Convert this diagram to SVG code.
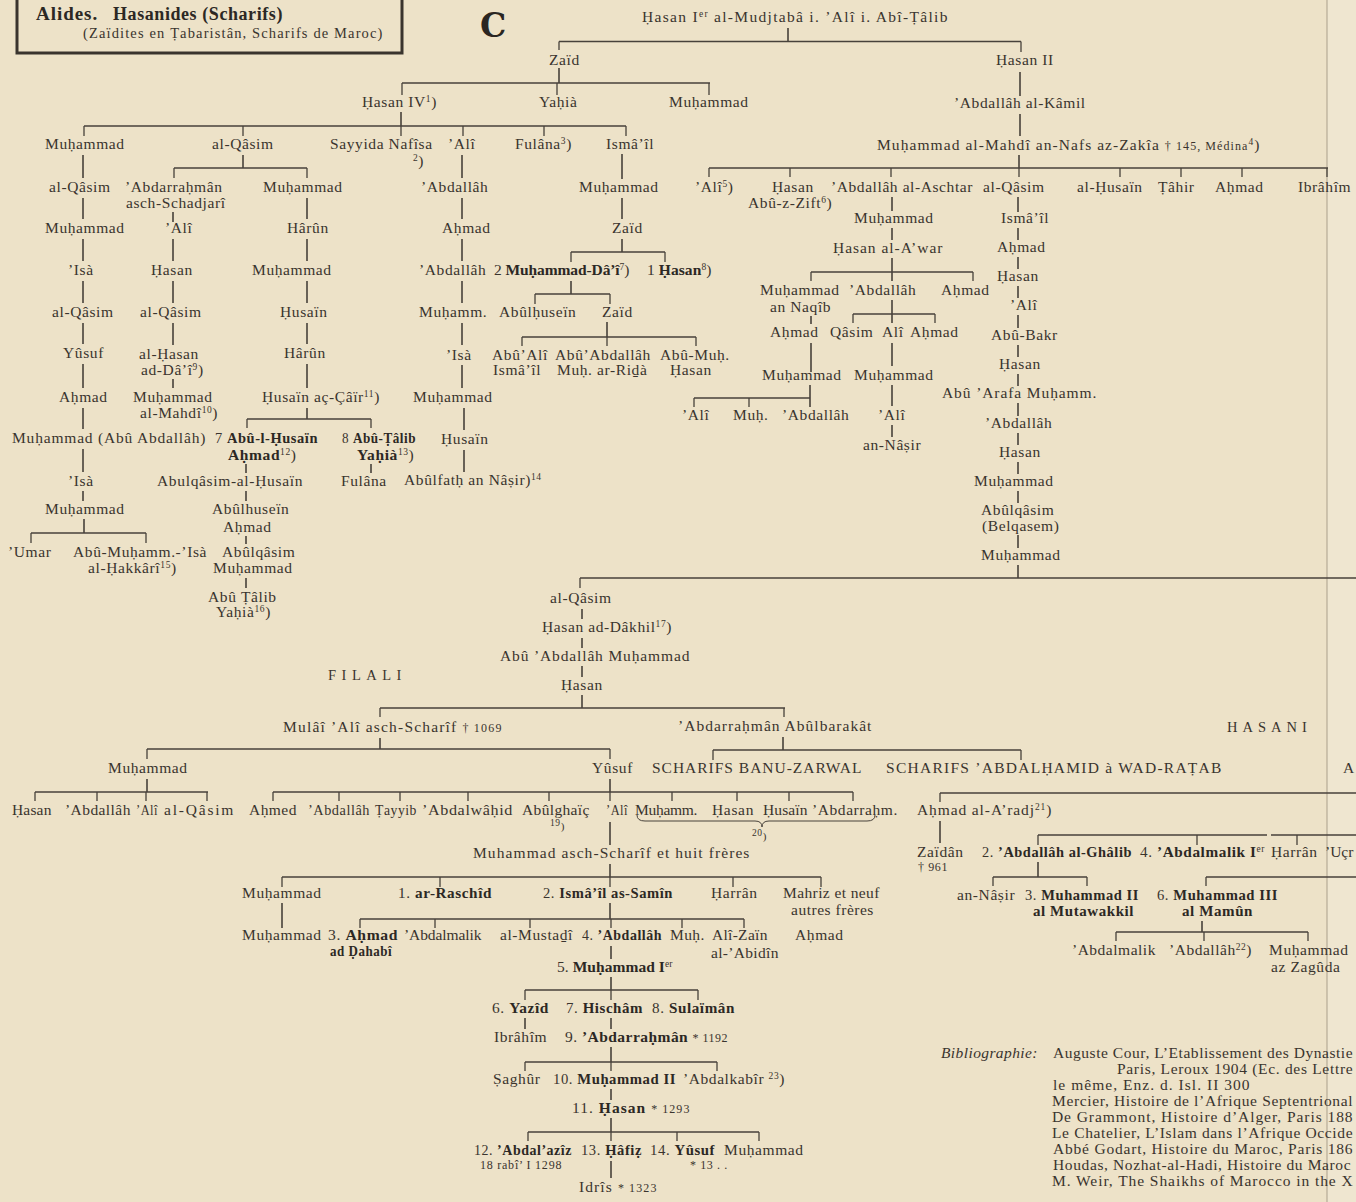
<svg xmlns="http://www.w3.org/2000/svg" width="1356" height="1202" viewBox="0 0 1356 1202">
<style>
.t{font-family:"Liberation Serif","Times New Roman",serif;font-size:15.5px;fill:#3a342e;letter-spacing:0.6px}
.b{font-weight:bold;fill:#2c2824}
.sp{font-size:9.5px}
.sm{font-size:12px}
.caps{font-size:14.5px;letter-spacing:5.5px}
.bib{font-family:"Liberation Serif","Times New Roman",serif;font-size:15.5px;fill:#3a342e;letter-spacing:0.4px}
.ln{stroke:#48423b;stroke-width:1.6;fill:none}
.tk{stroke:#48423b;stroke-width:1.3;fill:none}
</style>
<rect x="0" y="0" width="1356" height="1202" fill="#ede2c8"/>
<rect x="1327" y="0" width="29" height="1202" fill="#efe6d0"/>
<line x1="1327" y1="0" x2="1327" y2="1202" stroke="#aa9f8b" stroke-width="1"/>

<g id="title">
<rect x="17" y="-3" width="385" height="56" fill="none" stroke="#3a342e" stroke-width="3"/>
<text class="t b" x="36" y="20" style="font-size:19px;letter-spacing:0.8px" textLength="62">Alides.</text>
<text class="t b" x="113" y="20" style="font-size:18px;letter-spacing:0.6px" textLength="170">Hasanides (Scharifs)</text>
<text class="t" x="83" y="38" style="font-size:14.5px" textLength="300">(Zaïdites en Ṭabaristân, Scharifs de Maroc)</text>
</g>
<g id="letter-c"><text x="480" y="37" style="font-family:'DejaVu Serif',serif;font-weight:bold;font-size:33px;fill:#2a2622">C</text></g>

<g id="connectors">
<path class="ln" d="M788 28V41.5M559 41.5H1021M1020 72V96M1020 114V136M1019 155V168M709 168H1328M559 68V83M402 83H710M401 112V126M84 126H626
M83 155V178M83 198V219M83 239V261M83 281V303M83 323V344M83 364V388M83 408V429M83 449V472M83 491V501M84 519V533M31 533H146
M243 155V168M174 168H307M173 212V222M173 239V261M173 281V303M173 323V345M173 379V388
M307 198V219M307 239V261M307 281V303M307 323V344M307 364V388M307 408V419M247 419H371M246 464V473M246 491V501M246 536V544M246 578V588M371 464V473
M462 155V178M462 198V219M462 239V261M462 281V303M462 323V345M462 365V388M464 408V430M464 450V472
M622 154V179M622 198V219M622 239V252M571 252H665M571 281V294M535 294H610M607 322V337M522 337H696
M892 197V211M892 228V240M892 258V281M811 272H973M892 300V323M853 314H935M811 316V324M811 343V372M810 385V407M694 398H810M892 343V366M892 385V406M892 425V437
M1018 197V212M1018 228V240M1018 257V269M1018 286V298M1018 315V328M1018 345V357M1018 374V386M1018 403V416M1018 433V445M1018 462V474M1018 491V503M1018 535V548M1018 565V578M580 578H1356
M582 609V619M582 638V648M582 666V677M582 695V708M380 708H785M380 738V749M147 749H610M783 737V750M713 750H1021
M147 779V792M35 792H208M610 779V792M273 792H853M610 822V845M610 864V877M282 877H821M282 903V928M610 903V919M360 919H744
M611 946V959M611 977V990M525 990H698M525 1018V1029M611 1018V1029M611 1047V1062M525 1062H717M611 1089V1100M611 1118V1132M528 1132H759M611 1161V1178
M940 793H1356M940 821V843M1038 835H1267M1271 835H1356M1038 862V877M993 877H1087M1206 877H1356M1202 921V932M1116 932H1308"/>
<path class="tk" d="M559 41.5V50M1021 41.5V52M709 168V177M790 168V177M891 168V177M1019 168V177M1120 168V177M1181 168V177M1242 168V177M1327 168V177
M402 83V95M557 83V95M709 83V95M84 126V136M243 126V136M401 126V136M463 126V136M544 126V136M626 126V136
M31 533V543M146 533V543M174 168V178M307 168V178M247 419V428M371 419V428M571 252V262M665 252V262M535 294V304M610 294V304M522 337V346M607 337V346M696 337V346
M811 272V281M973 272V281M853 314V323M935 314V323M694 398V407M749 398V407M580 578V588
M380 708V717M784 708V717M147 749V759M610 749V759M713 750V760M1021 750V760
M35 792V801M97 792V801M146 792V801M207 792V801M273 792V801M339 792V801M400 792V801M468 792V801M549 792V801M610 792V801M672 792V801M737 792V801M789 792V801M853 792V801
M282 877V887M440 877V887M610 877V887M733 877V887M821 877V887M360 919V928M435 919V928M530 919V928M611 919V928M682 919V928M744 919V928
M525 990V1000M611 990V1000M698 990V1000M525 1062V1071M611 1062V1071M717 1062V1071M528 1132V1141M611 1132V1141M677 1132V1141M759 1132V1141
M940 793V802M1038 835V845M1197 835V845M1297 835V845M993 877V886M1087 877V886M1206 877V886M1116 932V941M1204 932V941M1308 932V941"/>
<path d="M637 815Q637 821 645 821H755Q762 821 762 827Q762 821 769 821H867Q875 821 875 815" fill="none" stroke="#48423b" stroke-width="1"/>
</g>

<g id="n-hasan1"><text class="t" x="642" y="22" textLength="306">Ḥasan I<tspan class="sp" dy="-5">er</tspan><tspan dy="5"> al-Mudjtabâ i. ’Alî i. Abî-Ṭâlib</tspan></text></g>
<g id="n-zaid1"><text class="t" x="549" y="65">Zaïd</text></g>
<g id="n-hasan2"><text class="t" x="996" y="65">Ḥasan II</text></g>
<g id="n-abdallah-kamil"><text class="t" x="954" y="108">’Abdallâh al-Kâmil</text></g>
<g id="n-muh-mahdi"><text class="t" x="877" y="150" textLength="383">Muḥammad al-Mahdî an-Nafs az-Zakîa <tspan class="sm">† 145, Médina</tspan><tspan class="sp" dy="-5">4</tspan><tspan dy="5">)</tspan></text></g>
<g id="n-hasan4"><text class="t" x="362" y="107">Ḥasan IV<tspan class="sp" dy="-5">1</tspan><tspan dy="5">)</tspan></text></g>
<g id="n-yahia"><text class="t" x="539" y="107">Yaḥià</text></g>
<g id="n-muh-z"><text class="t" x="669" y="107">Muḥammad</text></g>

<g id="n-muh-a"><text class="t" x="45" y="149">Muḥammad</text></g>
<g id="n-qasim-a"><text class="t" x="212" y="149">al-Qâsim</text></g>
<g id="n-nafisa"><text class="t" x="330" y="149">Sayyida Nafîsa</text><text class="t" x="413" y="166"><tspan class="sp" dy="-5">2</tspan><tspan dy="5">)</tspan></text></g>
<g id="n-ali-a"><text class="t" x="448" y="149">’Alî</text></g>
<g id="n-fulana-a"><text class="t" x="515" y="149">Fulâna<tspan class="sp" dy="-5">3</tspan><tspan dy="5">)</tspan></text></g>
<g id="n-ismail-a"><text class="t" x="606" y="149">Ismâ’îl</text></g>

<g id="n-ali5"><text class="t" x="695" y="192">’Alî<tspan class="sp" dy="-5">5</tspan><tspan dy="5">)</tspan></text></g>
<g id="n-hasan-zift"><text class="t" x="772" y="192">Ḥasan</text><text class="t" x="748" y="208">Abû-z-Zift<tspan class="sp" dy="-5">6</tspan><tspan dy="5">)</tspan></text></g>
<g id="n-aschtar"><text class="t" x="831" y="192" textLength="142">’Abdallâh al-Aschtar</text></g>
<g id="n-qasim-b"><text class="t" x="983" y="192">al-Qâsim</text></g>
<g id="n-husain-b"><text class="t" x="1077" y="192">al-Ḥusaïn</text></g>
<g id="n-tahir"><text class="t" x="1158" y="192">Ṭâhir</text></g>
<g id="n-ahmad-b"><text class="t" x="1215" y="192">Aḥmad</text></g>
<g id="n-ibrahim-b"><text class="t" x="1298" y="192">Ibrâhîm</text></g>

<g id="n-c1-1"><text class="t" x="49" y="192">al-Qâsim</text></g>
<g id="n-c1-2"><text class="t" x="45" y="233">Muḥammad</text></g>
<g id="n-c1-3"><text class="t" x="68" y="275">’Isà</text></g>
<g id="n-c1-4"><text class="t" x="52" y="317">al-Qâsim</text></g>
<g id="n-c1-5"><text class="t" x="63" y="358">Yûsuf</text></g>
<g id="n-c1-6"><text class="t" x="59" y="402">Aḥmad</text></g>
<g id="n-c1-7"><text class="t" x="12" y="443" textLength="194">Muḥammad (Abû Abdallâh)</text></g>
<g id="n-c1-8"><text class="t" x="68" y="486">’Isà</text></g>
<g id="n-c1-9"><text class="t" x="45" y="514">Muḥammad</text></g>
<g id="n-umar"><text class="t" x="8" y="557">’Umar</text></g>
<g id="n-hakkari"><text class="t" x="73" y="557" textLength="134">Abû-Muḥamm.-’Isà</text><text class="t" x="88" y="573">al-Ḥakkârî<tspan class="sp" dy="-5">15</tspan><tspan dy="5">)</tspan></text></g>

<g id="n-schadjari"><text class="t" x="125" y="192">’Abdarraḥmân</text><text class="t" x="126" y="208">asch-Schadjarî</text></g>
<g id="n-c2-1"><text class="t" x="165" y="233">’Alî</text></g>
<g id="n-c2-2"><text class="t" x="151" y="275">Ḥasan</text></g>
<g id="n-c2-3"><text class="t" x="140" y="317">al-Qâsim</text></g>
<g id="n-c2-4"><text class="t" x="139" y="359">al-Ḥasan</text><text class="t" x="141" y="375">ad-Dâ’î<tspan class="sp" dy="-5">9</tspan><tspan dy="5">)</tspan></text></g>
<g id="n-c2-5"><text class="t" x="133" y="402">Muḥammad</text><text class="t" x="140" y="418">al-Mahdî<tspan class="sp" dy="-5">10</tspan><tspan dy="5">)</tspan></text></g>

<g id="n-c3-1"><text class="t" x="263" y="192">Muḥammad</text></g>
<g id="n-c3-2"><text class="t" x="287" y="233">Hârûn</text></g>
<g id="n-c3-3"><text class="t" x="252" y="275">Muḥammad</text></g>
<g id="n-c3-4"><text class="t" x="280" y="317">Ḥusaïn</text></g>
<g id="n-c3-5"><text class="t" x="284" y="358">Hârûn</text></g>
<g id="n-c3-6"><text class="t" x="262" y="402">Ḥusaïn aç-Çâïr<tspan class="sp" dy="-5">11</tspan><tspan dy="5">)</tspan></text></g>
<g id="n-abulhusain7"><text class="t" x="215" y="443" textLength="103" lengthAdjust="spacingAndGlyphs">7 <tspan class="b">Abû-l-Ḥusaïn</tspan></text><text class="t" x="228" y="460"><tspan class="b">Aḥmad</tspan><tspan class="sp" dy="-5">12</tspan><tspan dy="5">)</tspan></text></g>
<g id="n-abutalib8"><text class="t" x="342" y="443" textLength="74" lengthAdjust="spacingAndGlyphs">8 <tspan class="b">Abû-Ṭâlib</tspan></text><text class="t" x="357" y="460"><tspan class="b">Yaḥià</tspan><tspan class="sp" dy="-5">13</tspan><tspan dy="5">)</tspan></text></g>
<g id="n-abulqasim-husain"><text class="t" x="157" y="486" textLength="146">Abulqâsim-al-Ḥusaïn</text></g>
<g id="n-abulhusein-ahmad"><text class="t" x="212" y="514">Abûlhuseïn</text><text class="t" x="223" y="532">Aḥmad</text></g>
<g id="n-abulqasim-muh"><text class="t" x="222" y="557">Abûlqâsim</text><text class="t" x="213" y="573">Muḥammad</text></g>
<g id="n-abutalib-yahia"><text class="t" x="208" y="602">Abû Ṭâlib</text><text class="t" x="216" y="617">Yaḥià<tspan class="sp" dy="-5">16</tspan><tspan dy="5">)</tspan></text></g>
<g id="n-fulana-b"><text class="t" x="341" y="486">Fulâna</text></g>

<g id="n-c4-1"><text class="t" x="421" y="192">’Abdallâh</text></g>
<g id="n-c4-2"><text class="t" x="442" y="233">Aḥmad</text></g>
<g id="n-c4-3"><text class="t" x="419" y="275">’Abdallâh</text></g>
<g id="n-c4-4"><text class="t" x="419" y="317">Muḥamm.</text></g>
<g id="n-c4-5"><text class="t" x="446" y="360">’Isà</text></g>
<g id="n-c4-6"><text class="t" x="413" y="402">Muḥammad</text></g>
<g id="n-c4-7"><text class="t" x="441" y="444">Ḥusaïn</text></g>
<g id="n-abulfath"><text class="t" x="404" y="485">Abûlfatḥ an Nâṣir)<tspan class="sp" dy="-5">14</tspan></text></g>

<g id="n-c5-1"><text class="t" x="579" y="192">Muḥammad</text></g>
<g id="n-c5-2"><text class="t" x="612" y="233">Zaïd</text></g>
<g id="n-muh-dai"><text class="t" x="494" y="275" textLength="136">2 <tspan class="b">Muḥammad-Dâ’î</tspan><tspan class="sp" dy="-5">7</tspan><tspan dy="5">)</tspan></text></g>
<g id="n-hasan8"><text class="t" x="647" y="275" textLength="65">1 <tspan class="b">Ḥasan</tspan><tspan class="sp" dy="-5">8</tspan><tspan dy="5">)</tspan></text></g>
<g id="n-abulhusein-b"><text class="t" x="499" y="317">Abûlḥuseïn</text></g>
<g id="n-zaid3"><text class="t" x="602" y="317">Zaïd</text></g>
<g id="n-abuali"><text class="t" x="492" y="360">Abû’Alî</text><text class="t" x="493" y="375">Ismâ’îl</text></g>
<g id="n-abuabdallah"><text class="t" x="555" y="360">Abû’Abdallâh</text><text class="t" x="557" y="375">Muḥ. ar-Riḏà</text></g>
<g id="n-abumuh"><text class="t" x="660" y="360">Abû-Muḥ.</text><text class="t" x="670" y="375">Ḥasan</text></g>

<g id="n-a-1"><text class="t" x="854" y="223">Muḥammad</text></g>
<g id="n-a-2"><text class="t" x="833" y="253" textLength="110">Ḥasan al-A’war</text></g>
<g id="n-naqib"><text class="t" x="760" y="295">Muḥammad</text><text class="t" x="770" y="312">an Naqîb</text></g>
<g id="n-a-abd"><text class="t" x="849" y="295">’Abdallâh</text></g>
<g id="n-a-ahmad"><text class="t" x="941" y="295">Aḥmad</text></g>
<g id="n-a-ahmad2"><text class="t" x="770" y="337">Aḥmad</text></g>
<g id="n-a-qasim"><text class="t" x="830" y="337">Qâsim</text></g>
<g id="n-a-ali"><text class="t" x="882" y="337">Alî</text></g>
<g id="n-a-ahmad3"><text class="t" x="910" y="337">Aḥmad</text></g>
<g id="n-a-muh1"><text class="t" x="762" y="380">Muḥammad</text></g>
<g id="n-a-muh2"><text class="t" x="854" y="380">Muḥammad</text></g>
<g id="n-a-ali1"><text class="t" x="682" y="420">’Alî</text></g>
<g id="n-a-muh3"><text class="t" x="733" y="420">Muḥ.</text></g>
<g id="n-a-abd2"><text class="t" x="782" y="420">’Abdallâh</text></g>
<g id="n-a-ali2"><text class="t" x="878" y="420">’Alî</text></g>
<g id="n-a-nasir"><text class="t" x="863" y="450">an-Nâṣir</text></g>

<g id="n-q-1"><text class="t" x="1001" y="223">Ismâ’îl</text></g>
<g id="n-q-2"><text class="t" x="997" y="252">Aḥmad</text></g>
<g id="n-q-3"><text class="t" x="997" y="281">Ḥasan</text></g>
<g id="n-q-4"><text class="t" x="1010" y="310">’Alî</text></g>
<g id="n-q-5"><text class="t" x="991" y="340">Abû-Bakr</text></g>
<g id="n-q-6"><text class="t" x="999" y="369">Ḥasan</text></g>
<g id="n-q-7"><text class="t" x="942" y="398" textLength="155">Abû ’Arafa Muḥamm.</text></g>
<g id="n-q-8"><text class="t" x="985" y="428">’Abdallâh</text></g>
<g id="n-q-9"><text class="t" x="999" y="457">Ḥasan</text></g>
<g id="n-q-10"><text class="t" x="974" y="486">Muḥammad</text></g>
<g id="n-q-11"><text class="t" x="981" y="515">Abûlqâsim</text><text class="t" x="982" y="531">(Belqasem)</text></g>
<g id="n-q-12"><text class="t" x="981" y="560">Muḥammad</text></g>

<g id="n-l-qasim"><text class="t" x="550" y="603">al-Qâsim</text></g>
<g id="n-l-dakhil"><text class="t" x="542" y="632">Ḥasan ad-Dâkhil<tspan class="sp" dy="-5">17</tspan><tspan dy="5">)</tspan></text></g>
<g id="n-l-abuabd"><text class="t" x="500" y="661" textLength="190">Abû ’Abdallâh Muḥammad</text></g>
<g id="n-l-hasan"><text class="t" x="561" y="690">Ḥasan</text></g>
<g id="lbl-filali"><text class="t caps" x="328" y="680">FILALI</text></g>
<g id="lbl-hasani"><text class="t caps" x="1227" y="732" style="letter-spacing:5px">HASANI</text></g>
<g id="n-mulai"><text class="t" x="283" y="732" textLength="219">Mulâî ’Alî asch-Scharîf <tspan class="sm">† 1069</tspan></text></g>
<g id="n-abulbarakat"><text class="t" x="678" y="731" textLength="194">’Abdarraḥmân Abûlbarakât</text></g>
<g id="n-f-muh"><text class="t" x="108" y="773">Muḥammad</text></g>
<g id="n-f-yusuf"><text class="t" x="592" y="773">Yûsuf</text></g>
<g id="n-banu-zarwal"><text class="t" x="652" y="773" textLength="210">SCHARIFS BANU-ZARWAL</text></g>
<g id="n-wad-ratab"><text class="t" x="886" y="773" textLength="336">SCHARIFS ’ABDALḤAMID à WAD-RAṬAB</text></g>
<g id="n-edge-a"><text class="t" x="1343" y="773">A</text></g>

<g id="n-g-hasan"><text class="t" x="12" y="815" textLength="40">Ḥasan</text></g>
<g id="n-g-abd"><text class="t" x="65" y="815" textLength="66">’Abdallâh</text></g>
<g id="n-g-ali"><text class="t" x="136" y="815" textLength="22" lengthAdjust="spacingAndGlyphs">’Alî</text></g>
<g id="n-g-qasim"><text class="t" x="164" y="815" textLength="70">al-Qâsim</text></g>
<g id="n-y-ahmed"><text class="t" x="249" y="815" textLength="48">Aḥmed</text></g>
<g id="n-y-abd"><text class="t" x="308" y="815" textLength="62" lengthAdjust="spacingAndGlyphs">’Abdallâh</text></g>
<g id="n-y-tayyib"><text class="t" x="375" y="815" textLength="42" lengthAdjust="spacingAndGlyphs">Ṭayyib</text></g>
<g id="n-y-abdalwahid"><text class="t" x="422" y="815" textLength="91" lengthAdjust="spacingAndGlyphs">’Abdalwâḥid</text></g>
<g id="n-y-abulghaic"><text class="t" x="522" y="815" textLength="68">Abûlghaïç</text><text class="t" x="550" y="830"><tspan class="sp" dy="-4">19</tspan><tspan dy="4" style="font-size:11px">)</tspan></text></g>
<g id="n-y-ali"><text class="t" x="606" y="815" textLength="22" lengthAdjust="spacingAndGlyphs">’Alî</text></g>
<g id="n-y-muhamm"><text class="t" x="635" y="815" textLength="63">Muḥamm.</text></g>
<g id="n-y-hasan"><text class="t" x="712" y="815" textLength="42">Ḥasan</text></g>
<g id="n-y-husain"><text class="t" x="763" y="815" textLength="45">Ḥusaïn</text></g>
<g id="n-y-abdarrahm"><text class="t" x="812" y="815" textLength="86">’Abdarraḥm.</text><text class="t" x="752" y="840"><tspan class="sp" dy="-4">20</tspan><tspan dy="4" style="font-size:11px">)</tspan></text></g>
<g id="n-aradj"><text class="t" x="917" y="815" textLength="135">Aḥmad al-A’radj<tspan class="sp" dy="-5">21</tspan><tspan dy="5">)</tspan></text></g>

<g id="n-scharif"><text class="t" x="473" y="858" textLength="277">Muhammad asch-Scharîf et huit frères</text></g>
<g id="n-s-muh"><text class="t" x="242" y="898">Muḥammad</text></g>
<g id="n-raschid"><text class="t" x="398" y="898" textLength="94" lengthAdjust="spacingAndGlyphs">1. <tspan class="b">ar-Raschîd</tspan></text></g>
<g id="n-samin"><text class="t" x="543" y="898" textLength="130" lengthAdjust="spacingAndGlyphs">2. <tspan class="b">Ismâ’îl as-Samîn</tspan></text></g>
<g id="n-s-harran"><text class="t" x="711" y="898">Ḥarrân</text></g>
<g id="n-mahriz"><text class="t" x="783" y="898" textLength="97">Mahriz et neuf</text><text class="t" x="791" y="915" textLength="83">autres frères</text></g>
<g id="n-s-muh2"><text class="t" x="242" y="940">Muḥammad</text></g>
<g id="n-dahabi"><text class="t" x="328" y="940" textLength="70" lengthAdjust="spacingAndGlyphs">3. <tspan class="b">Aḥmad</tspan></text><text class="t b" x="330" y="956" textLength="62" lengthAdjust="spacingAndGlyphs">ad Ḍahabî</text></g>
<g id="n-abdalmalik-a"><text class="t" x="404" y="940" textLength="78">’Abdalmalik</text></g>
<g id="n-mustadi"><text class="t" x="500" y="940" textLength="73">al-Mustaḏî</text></g>
<g id="n-abdallah4"><text class="t" x="582" y="940" textLength="80" lengthAdjust="spacingAndGlyphs">4. <tspan class="b">’Abdallâh</tspan></text></g>
<g id="n-muh-i"><text class="t" x="670" y="940" textLength="35">Muḥ.</text></g>
<g id="n-zain"><text class="t" x="712" y="940" textLength="56">Alî-Zaïn</text><text class="t" x="711" y="958" textLength="68">al-’Abidîn</text></g>
<g id="n-ahmad-m"><text class="t" x="795" y="940">Aḥmad</text></g>
<g id="n-muh5"><text class="t" x="557" y="972" textLength="116">5. <tspan class="b">Muḥammad I</tspan><tspan class="sp" dy="-5">er</tspan></text></g>
<g id="n-yazid6"><text class="t" x="492" y="1013" textLength="57" lengthAdjust="spacingAndGlyphs">6. <tspan class="b">Yazîd</tspan></text></g>
<g id="n-hischam7"><text class="t" x="566" y="1013" textLength="77" lengthAdjust="spacingAndGlyphs">7. <tspan class="b">Hischâm</tspan></text></g>
<g id="n-sulaiman8"><text class="t" x="652" y="1013" textLength="83" lengthAdjust="spacingAndGlyphs">8. <tspan class="b">Sulaïmân</tspan></text></g>
<g id="n-ibrahim-y"><text class="t" x="494" y="1042">Ibrâhîm</text></g>
<g id="n-abdarrahman9"><text class="t" x="565" y="1042" textLength="163">9. <tspan class="b">’Abdarraḥmân</tspan> <tspan class="sm">* 1192</tspan></text></g>
<g id="n-saghur"><text class="t" x="493" y="1084">Ṣaghûr</text></g>
<g id="n-muh10"><text class="t" x="553" y="1084" textLength="123" lengthAdjust="spacingAndGlyphs">10. <tspan class="b">Muḥammad II</tspan></text></g>
<g id="n-abdalkabir"><text class="t" x="683" y="1084" textLength="102">’Abdalkabîr <tspan class="sp" dy="-5">23</tspan><tspan dy="5">)</tspan></text></g>
<g id="n-hasan11"><text class="t" x="572" y="1113" textLength="118">11. <tspan class="b">Ḥasan</tspan> <tspan class="sm">* 1293</tspan></text></g>
<g id="n-abdalaziz12"><text class="t" x="474" y="1155" textLength="98" lengthAdjust="spacingAndGlyphs">12. <tspan class="b">’Abdal’azîz</tspan></text><text class="t sm" x="480" y="1169" textLength="82">18 rabî’ I 1298</text></g>
<g id="n-hafiz13"><text class="t" x="581" y="1155" textLength="61" lengthAdjust="spacingAndGlyphs">13. <tspan class="b">Ḥâfiẓ</tspan></text></g>
<g id="n-yusuf14"><text class="t" x="650" y="1155" textLength="65" lengthAdjust="spacingAndGlyphs">14. <tspan class="b">Yûsuf</tspan></text><text class="t sm" x="690" y="1169">* 13 . .</text></g>
<g id="n-muh-last"><text class="t" x="724" y="1155">Muḥammad</text></g>
<g id="n-idris"><text class="t" x="579" y="1192" textLength="78">Idrîs <tspan class="sm">* 1323</tspan></text></g>

<g id="n-zaidan"><text class="t" x="917" y="857">Zaïdân</text><text class="t sm" x="918" y="871">† 961</text></g>
<g id="n-ghalib"><text class="t" x="982" y="857" textLength="150" lengthAdjust="spacingAndGlyphs">2. <tspan class="b">’Abdallâh al-Ghâlib</tspan></text></g>
<g id="n-abdalmalik1"><text class="t" x="1140" y="857" textLength="125" lengthAdjust="spacingAndGlyphs">4. <tspan class="b">’Abdalmalik I</tspan><tspan class="sp" dy="-5">er</tspan></text></g>
<g id="n-r-harran"><text class="t" x="1271" y="857">Ḥarrân</text></g>
<g id="n-ucr"><text class="t" x="1325" y="857" textLength="29">’Uçr</text></g>
<g id="n-r-nasir"><text class="t" x="957" y="900">an-Nâṣir</text></g>
<g id="n-mutawakkil"><text class="t" x="1025" y="900" textLength="114" lengthAdjust="spacingAndGlyphs">3. <tspan class="b">Muhammad II</tspan></text><text class="t b" x="1033" y="916" textLength="101" lengthAdjust="spacingAndGlyphs">al Mutawakkil</text></g>
<g id="n-mamun"><text class="t" x="1157" y="900" textLength="121" lengthAdjust="spacingAndGlyphs">6. <tspan class="b">Muhammad III</tspan></text><text class="t b" x="1182" y="916" textLength="71" lengthAdjust="spacingAndGlyphs">al Mamûn</text></g>
<g id="n-r-abdalmalik"><text class="t" x="1072" y="955" textLength="84">’Abdalmalik</text></g>
<g id="n-r-abdallah"><text class="t" x="1169" y="955" textLength="83">’Abdallâh<tspan class="sp" dy="-5">22</tspan><tspan dy="5">)</tspan></text></g>
<g id="n-zaguda"><text class="t" x="1269" y="955">Muḥammad</text><text class="t" x="1271" y="972">az Zagûda</text></g>

<g id="bibliography">
<text class="bib" x="941" y="1058" font-style="italic">Bibliographie:</text>
<text class="bib" x="1053" y="1058" textLength="300">Auguste Cour, L’Etablissement des Dynastie</text>
<text class="bib" x="1117" y="1074" textLength="236">Paris, Leroux 1904 (Ec. des Lettre</text>
<text class="bib" x="1053" y="1090" textLength="197">le même, Enz. d. Isl. II 300</text>
<text class="bib" x="1052" y="1106" textLength="301">Mercier, Histoire de l’Afrique Septentrional</text>
<text class="bib" x="1052" y="1122" textLength="301">De Grammont, Histoire d’Alger, Paris 188</text>
<text class="bib" x="1052" y="1138" textLength="301">Le Chatelier, L’Islam dans l’Afrique Occide</text>
<text class="bib" x="1053" y="1154" textLength="300">Abbé Godart, Histoire du Maroc, Paris 186</text>
<text class="bib" x="1053" y="1170" textLength="298">Houdas, Nozhat-al-Hadi, Histoire du Maroc</text>
<text class="bib" x="1052" y="1186" textLength="301">M. Weir, The Shaikhs of Marocco in the X</text>
</g>
</svg>
